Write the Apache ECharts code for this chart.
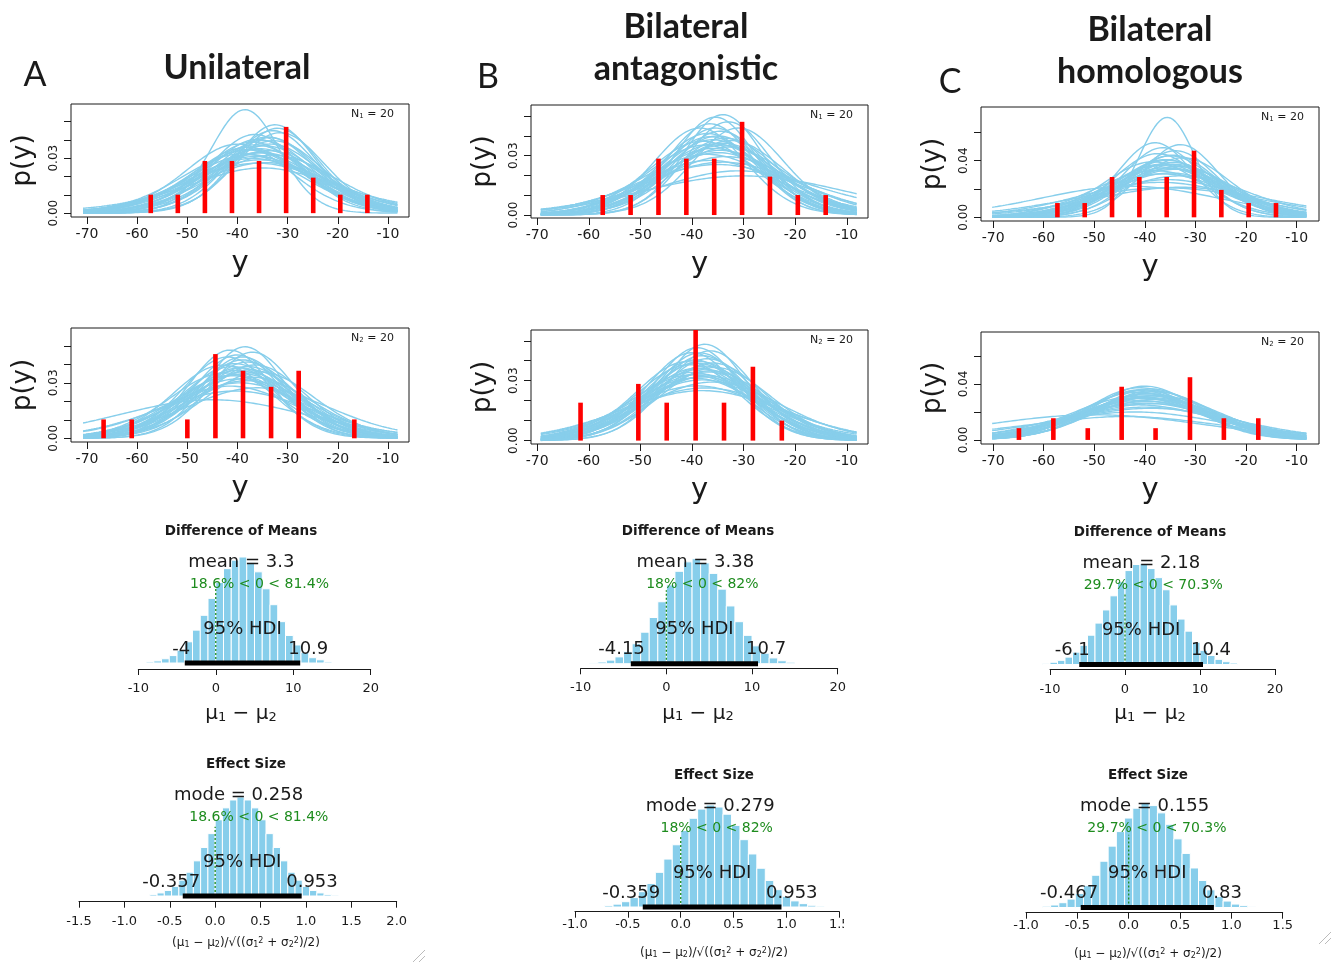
<!DOCTYPE html>
<html>
<head>
<meta charset="utf-8">
<script src="https://cdn.jsdelivr.net/npm/echarts@6/dist/echarts.min.js"></script>
<style>
  html, body { margin: 0; padding: 0; background: #fff; }
  #chart { width: 1332px; height: 969px; }
</style>
</head>
<body>
<div id="chart"></div>
<script>
// ---- posterior predictive panels (rows 1-2) ----
const predXTicks = [-70, -60, -50, -40, -30, -20, -10]
const predYTicksAB = [0, 0.01, 0.02, 0.03, 0.04, 0.05]
const predYLabelsAB = [0, 0.03]
const predYTicksC = [0, 0.02, 0.04, 0.06]
const predYLabelsC = [0, 0.04]

const curveSpanA = [-70.8, -8.1]
const curveSpanB = [-69.3, -8.1]
const curveSpanC = [-70.2, -8.1]

// observed data histograms (bar position, density)
const obsGroup1X = [-57.3, -51.9, -46.5, -41.1, -35.7, -30.3, -24.9, -19.5, -14.1]
const obsGroup1Dens = [0.0101, 0.0101, 0.0285, 0.0285, 0.0285, 0.0471, 0.0194, 0.0101, 0.0101]
const obsA2X = [-66.7, -61.1, -50.0, -44.4, -38.9, -33.3, -27.8, -16.7]
const obsA2Dens = [0.0102, 0.0102, 0.0102, 0.0455, 0.0365, 0.0278, 0.0365, 0.0102]
const obsB2X = [-61.6, -50.4, -44.9, -39.3, -33.8, -28.2, -22.6]
const obsB2Dens = [0.0190, 0.0284, 0.0190, 0.0570, 0.0190, 0.0370, 0.0100]
const obsC2X = [-64.9, -58.1, -51.3, -44.6, -37.9, -31.1, -24.4, -17.6]
const obsC2Dens = [0.0084, 0.0155, 0.0084, 0.0380, 0.0084, 0.0448, 0.0155, 0.0155]

// credible curves: [mu, sigma, nu]
const curvesA1 = [
  [-38.5, 7.0, 30], [-32.5, 8.2, 30], [-32.0, 8.5, 20], [-33.0, 8.8, 40], [-31.5, 9.0, 30],
  [-34.0, 9.5, 30], [-36.0, 9.8, 25], [-35.0, 10.0, 40], [-37.0, 10.2, 30], [-33.5, 10.4, 15],
  [-36.5, 10.6, 30], [-34.5, 10.8, 50], [-38.0, 11.0, 30], [-35.5, 11.2, 20], [-37.5, 11.4, 40],
  [-34.0, 11.6, 30], [-36.0, 11.8, 10], [-35.0, 12.0, 30], [-39.0, 12.2, 30], [-33.0, 12.5, 40],
  [-36.5, 12.8, 30], [-37.0, 13.2, 20], [-35.5, 13.6, 30], [-34.5, 14.0, 8], [-36.0, 14.5, 30],
  [-38.0, 11.5, 50], [-32.8, 10.0, 30], [-40.0, 10.5, 30], [-35.0, 15.5, 6], [-36.5, 9.2, 30],
  [-33.5, 9.6, 30], [-37.5, 12.4, 30]
]
const curvesA2 = [
  [-38.5, 8.0, 30], [-41.5, 8.3, 30], [-37.0, 8.5, 30], [-40.0, 8.8, 40], [-42.0, 9.0, 30],
  [-39.0, 9.3, 20], [-38.0, 9.6, 30], [-40.5, 9.8, 30], [-36.5, 10.0, 40], [-41.0, 10.2, 30],
  [-39.5, 10.4, 30], [-37.5, 10.6, 15], [-40.0, 10.8, 30], [-38.5, 11.0, 30], [-42.5, 11.2, 30],
  [-39.0, 11.4, 50], [-41.0, 11.7, 30], [-37.0, 12.0, 30], [-40.0, 12.3, 20], [-38.0, 12.7, 30],
  [-39.5, 13.2, 30], [-41.5, 13.8, 10], [-36.0, 14.5, 30], [-40.5, 15.5, 30], [-45.0, 19.0, 30],
  [-39.0, 9.0, 30], [-43.0, 10.0, 30], [-35.5, 11.0, 30], [-40.5, 11.5, 30], [-38.0, 10.2, 30]
]
const curvesB1 = [
  [-34.0, 7.8, 30], [-35.5, 8.0, 30], [-33.0, 8.4, 30], [-36.5, 8.6, 40], [-31.0, 9.0, 30],
  [-34.5, 9.3, 20], [-37.0, 9.6, 30], [-35.0, 9.9, 30], [-33.5, 10.2, 40], [-36.0, 10.4, 30],
  [-38.0, 10.6, 30], [-34.0, 10.8, 15], [-35.5, 11.0, 30], [-37.5, 11.2, 30], [-33.0, 11.5, 30],
  [-36.0, 11.8, 50], [-34.5, 12.1, 30], [-35.0, 12.5, 20], [-37.0, 12.9, 30], [-33.5, 13.4, 30],
  [-36.5, 14.0, 8], [-34.0, 14.8, 30], [-30.0, 20.0, 30], [-31.0, 17.0, 5], [-35.0, 15.5, 30],
  [-38.5, 9.0, 30], [-32.5, 10.5, 30], [-35.5, 9.0, 30], [-34.0, 11.2, 30], [-36.5, 10.0, 30]
]
const curvesB2 = [
  [-37.5, 8.2, 30], [-39.0, 8.5, 30], [-36.5, 8.8, 30], [-40.0, 9.0, 40], [-38.0, 9.3, 30],
  [-37.0, 9.6, 20], [-39.5, 9.8, 30], [-38.5, 10.0, 30], [-36.0, 10.2, 40], [-40.5, 10.4, 30],
  [-37.5, 10.6, 30], [-39.0, 10.8, 15], [-38.0, 11.0, 30], [-36.5, 11.3, 30], [-40.0, 11.6, 30],
  [-38.5, 11.9, 50], [-37.0, 12.2, 30], [-39.5, 12.6, 20], [-38.0, 13.0, 30], [-36.0, 13.5, 30],
  [-39.0, 14.2, 10], [-37.5, 15.0, 30], [-38.0, 15.8, 30], [-41.0, 10.0, 30], [-35.5, 10.8, 30],
  [-38.5, 9.0, 30], [-40.0, 12.0, 30], [-37.0, 11.5, 30], [-39.0, 10.2, 30], [-38.0, 12.4, 30]
]
const curvesC1 = [
  [-35.6, 5.6, 30], [-38.0, 7.5, 30], [-33.0, 7.7, 30], [-36.5, 8.0, 20], [-34.0, 8.4, 30],
  [-37.5, 8.8, 40], [-35.0, 9.1, 30], [-32.5, 9.4, 30], [-36.0, 9.7, 30], [-38.5, 10.0, 15],
  [-34.5, 10.2, 30], [-35.5, 10.5, 30], [-37.0, 10.8, 40], [-33.5, 11.0, 30], [-36.0, 11.3, 30],
  [-34.0, 11.6, 20], [-38.0, 12.0, 30], [-35.0, 12.4, 10], [-36.5, 12.9, 30], [-33.0, 13.5, 30],
  [-35.5, 14.5, 8], [-37.0, 16.0, 30], [-36.0, 19.0, 30], [-43.0, 18.0, 30], [-33.0, 18.0, 6],
  [-34.5, 9.0, 30], [-36.5, 10.5, 30], [-35.0, 11.5, 30], [-35.5, 9.8, 30], [-34.0, 10.6, 30]
]
const curvesC2 = [
  [-40.0, 10.3, 30], [-41.0, 10.6, 30], [-39.0, 10.8, 20], [-40.5, 11.0, 30], [-38.5, 11.3, 40],
  [-41.5, 11.6, 30], [-39.5, 11.9, 30], [-40.0, 12.2, 15], [-37.5, 12.5, 30], [-42.0, 12.8, 30],
  [-39.0, 13.1, 30], [-40.5, 13.4, 50], [-38.0, 13.7, 30], [-41.0, 14.0, 20], [-39.5, 14.4, 30],
  [-40.0, 14.8, 10], [-38.5, 15.3, 30], [-41.5, 15.8, 30], [-40.0, 16.5, 8], [-39.0, 17.5, 30],
  [-42.0, 19.0, 5], [-44.0, 22.0, 3], [-50.0, 22.0, 30], [-39.5, 12.0, 30], [-40.5, 13.0, 30],
  [-38.0, 11.5, 30], [-39.0, 12.6, 30], [-41.0, 11.2, 30]
]

// ---- posterior histograms (rows 3-4) ----
const diffBinWidth = 1
const diffBinStart = [-9, -9, -11]
const diffHeightsA = [0.01, 0.02, 0.04, 0.07, 0.12, 0.2, 0.31, 0.45, 0.61, 0.76, 0.89, 0.97, 1.0, 0.95, 0.86, 0.7, 0.55, 0.39, 0.26, 0.17, 0.1, 0.05, 0.03, 0.01]
const diffHeightsB = [0.007, 0.016, 0.034, 0.065, 0.115, 0.19, 0.30, 0.44, 0.59, 0.75, 0.88, 0.97, 1.0, 0.96, 0.86, 0.71, 0.55, 0.40, 0.27, 0.17, 0.10, 0.055, 0.028, 0.014]
const diffHeightsC = [0.011, 0.022, 0.041, 0.073, 0.122, 0.19, 0.29, 0.41, 0.54, 0.68, 0.82, 0.93, 0.99, 1.0, 0.95, 0.86, 0.74, 0.59, 0.45, 0.33, 0.22, 0.14, 0.089, 0.051, 0.028, 0.014]
const effBinWidth = 0.08
const effBinStart = [-0.72, -0.72, -0.84]
const effHeightsA = [0.016, 0.031, 0.056, 0.097, 0.16, 0.24, 0.355, 0.49, 0.63, 0.77, 0.89, 0.97, 1.0, 0.97, 0.89, 0.77, 0.63, 0.49, 0.355, 0.24, 0.16, 0.097, 0.056, 0.031, 0.016, 0.008]
const effHeightsB = [0.014, 0.028, 0.052, 0.092, 0.15, 0.23, 0.34, 0.47, 0.61, 0.75, 0.87, 0.96, 1.0, 0.98, 0.91, 0.80, 0.66, 0.52, 0.38, 0.26, 0.17, 0.105, 0.06, 0.033, 0.017, 0.008]
const effHeightsC = [0.012, 0.024, 0.046, 0.081, 0.135, 0.21, 0.31, 0.445, 0.59, 0.73, 0.86, 0.955, 1.0, 0.98, 0.91, 0.80, 0.66, 0.52, 0.38, 0.26, 0.17, 0.105, 0.062, 0.033, 0.017, 0.008]

const diffCentral = ['3.3', '3.38', '2.18']
const effCentral = ['0.258', '0.279', '0.155']
const pctText = ['18.6% < 0 < 81.4%', '18% < 0 < 82%', '29.7% < 0 < 70.3%']
const pctBelow = [0.186, 0.18, 0.297]
const diffHdiLo = ['-4', '-4.15', '-6.1']
const diffHdiHi = ['10.9', '10.7', '10.4']
const effHdiLo = ['-0.357', '-0.359', '-0.467']
const effHdiHi = ['0.953', '0.953', '0.83']

const FONT = "'DejaVu Sans', sans-serif"
const CURVE = '#87ceeb'
const BAR = '#87ceeb'
const GREEN = '#1e8c1e'
const INK = '#1a1a1a'

function lgamma (z) {
  const c = [0.99999999999980993, 676.5203681218851, -1259.1392167224028, 771.32342877765313,
    -176.61502916214059, 12.507343278686905, -0.13857109526572012, 9.9843695780195716e-6, 1.5056327351493116e-7]
  if (z < 0.5) return Math.log(Math.PI / Math.sin(Math.PI * z)) - lgamma(1 - z)
  z -= 1
  let x = c[0]
  for (let i = 1; i < 9; i++) x += c[i] / (z + i)
  const t = z + 7.5
  return 0.5 * Math.log(2 * Math.PI) + (z + 0.5) * Math.log(t) - t + Math.log(x)
}

function tCurve (p, span) {
  const [mu, sigma, nu] = p
  const k = Math.exp(lgamma((nu + 1) / 2) - lgamma(nu / 2)) / (Math.sqrt(nu * Math.PI) * sigma)
  const pts = []
  const n = 120
  for (let i = 0; i <= n; i++) {
    const x = span[0] + (span[1] - span[0]) * i / n
    const z = (x - mu) / sigma
    pts.push([x, k * Math.pow(1 + z * z / nu, -(nu + 1) / 2)])
  }
  return pts
}

const predPanels = [
  { left: 71, top: 104, width: 338, height: 113, xMin: -73.2, xMax: -5.8, yMin: -0.0021, yMax: 0.0596, yTicks: predYTicksAB, yLabels: predYLabelsAB, span: curveSpanA, curves: curvesA1, obsX: obsGroup1X, obsY: obsGroup1Dens, sub: '1' },
  { left: 71, top: 328, width: 338, height: 114, xMin: -73.2, xMax: -5.8, yMin: -0.0020, yMax: 0.0596, yTicks: predYTicksAB, yLabels: predYLabelsAB, span: curveSpanA, curves: curvesA2, obsX: obsA2X, obsY: obsA2Dens, sub: '2' },
  { left: 531, top: 105, width: 337, height: 113, xMin: -71.2, xMax: -5.9, yMin: -0.0015, yMax: 0.0556, yTicks: predYTicksAB, yLabels: predYLabelsAB, span: curveSpanB, curves: curvesB1, obsX: obsGroup1X, obsY: obsGroup1Dens, sub: '1' },
  { left: 531, top: 330, width: 337, height: 114, xMin: -71.2, xMax: -5.9, yMin: -0.0017, yMax: 0.0554, yTicks: predYTicksAB, yLabels: predYLabelsAB, span: curveSpanB, curves: curvesB2, obsX: obsB2X, obsY: obsB2Dens, sub: '2' },
  { left: 981, top: 107, width: 338, height: 114, xMin: -72.4, xMax: -5.6, yMin: -0.0026, yMax: 0.0780, yTicks: predYTicksC, yLabels: predYLabelsC, span: curveSpanC, curves: curvesC1, obsX: obsGroup1X, obsY: obsGroup1Dens, sub: '1' },
  { left: 981, top: 332, width: 338, height: 112, xMin: -72.4, xMax: -5.6, yMin: -0.0029, yMax: 0.0771, yTicks: predYTicksC, yLabels: predYLabelsC, span: curveSpanC, curves: curvesC2, obsX: obsC2X, obsY: obsC2Dens, sub: '2' }
]

const histPanels = [
  { left: 138.3, width: 232.4, axisY: 669, y0: 663, ppu: 106, xMin: -10, xMax: 20, interval: 10, dec: 0, margin: 13, cx: 241, kind: 'diff', col: 0 },
  { left: 580.7, width: 257, axisY: 668.3, y0: 663.7, ppu: 105, xMin: -10, xMax: 20, interval: 10, dec: 0, margin: 13, cx: 698, kind: 'diff', col: 1 },
  { left: 1050, width: 225, axisY: 669, y0: 664.5, ppu: 101, xMin: -10, xMax: 20, interval: 10, dec: 0, margin: 14, cx: 1150, kind: 'diff', col: 2 },
  { left: 79, width: 317.7, axisY: 901.7, y0: 896, ppu: 99, xMin: -1.5, xMax: 2.0, interval: 0.5, dec: 1, margin: 13, cx: 246, kind: 'eff', col: 0 },
  { left: 575, width: 264.3, axisY: 911.7, y0: 907, ppu: 102, xMin: -1.0, xMax: 1.5, interval: 0.5, dec: 1, margin: 6, cx: 714, kind: 'eff', col: 1 },
  { left: 1026, width: 256.7, axisY: 912.7, y0: 907.5, ppu: 104, xMin: -1.0, xMax: 1.5, interval: 0.5, dec: 1, margin: 6, cx: 1148, kind: 'eff', col: 2 }
]
const diffHeights = [diffHeightsA, diffHeightsB, diffHeightsC]
const effHeights = [effHeightsA, effHeightsB, effHeightsC]

const chart = echarts.init(document.getElementById('chart'))
const grids = []
const xAxes = []
const yAxes = []
const series = []

predPanels.forEach((p, i) => {
  grids.push({ left: p.left, top: p.top, width: p.width, height: p.height, show: true, borderColor: INK, borderWidth: 1 })
  xAxes.push({
    type: 'value', gridIndex: i, min: p.xMin, max: p.xMax,
    axisLine: { show: false, onZero: false },
    axisTick: { show: true, length: 7, customValues: predXTicks, lineStyle: { color: INK } },
    axisLabel: { customValues: predXTicks, color: INK, fontSize: 14, fontFamily: FONT, margin: 10 },
    splitLine: { show: false }
  })
  yAxes.push({
    type: 'value', gridIndex: i, min: p.yMin, max: p.yMax,
    axisLine: { show: false, onZero: false },
    axisTick: { show: true, length: 7, customValues: p.yTicks, lineStyle: { color: INK } },
    axisLabel: { customValues: p.yLabels, rotate: 90, color: INK, fontSize: 12, fontFamily: FONT, margin: 11, formatter: v => v.toFixed(2) },
    splitLine: { show: false }
  })
  p.curves.forEach(c => {
    series.push({
      type: 'line', xAxisIndex: i, yAxisIndex: i, data: tCurve(c, p.span),
      symbol: 'none', silent: true, animation: false, z: 2,
      lineStyle: { color: CURVE, width: 1.4 }
    })
  })
  series.push({
    type: 'custom', xAxisIndex: i, yAxisIndex: i, clip: true, silent: true, z: 3,
    data: p.obsX.map((x, k) => [x, p.obsY[k]]),
    encode: { x: 0, y: 1 },
    renderItem: (params, api) => {
      const top = api.coord([api.value(0), api.value(1)])
      const base = api.coord([api.value(0), 0])
      return { type: 'rect', shape: { x: top[0] - 2.3, y: top[1], width: 4.6, height: base[1] - top[1] }, style: { fill: '#ff0000' } }
    }
  })
})

histPanels.forEach((h, j) => {
  const gi = predPanels.length + j
  const top = h.y0 - 1.25 * h.ppu
  grids.push({ left: h.left, top: top, width: h.width, height: h.axisY - top, show: false })
  xAxes.push({
    type: 'value', gridIndex: gi, min: h.xMin, max: h.xMax, interval: h.interval,
    axisLine: { show: true, onZero: false, lineStyle: { color: INK, width: 1 } },
    axisTick: { show: true, length: 6, lineStyle: { color: INK } },
    axisLabel: { color: INK, fontSize: 13, fontFamily: FONT, margin: h.margin, formatter: v => v.toFixed(h.dec) },
    splitLine: { show: false }
  })
  yAxes.push({ type: 'value', gridIndex: gi, min: -(h.axisY - h.y0) / h.ppu, max: 1.25, show: false })

  const heights = h.kind === 'diff' ? diffHeights[h.col] : effHeights[h.col]
  const start = h.kind === 'diff' ? diffBinStart[h.col] : effBinStart[h.col]
  const w = h.kind === 'diff' ? diffBinWidth : effBinWidth
  const lo = parseFloat(h.kind === 'diff' ? diffHdiLo[h.col] : effHdiLo[h.col])
  const hi = parseFloat(h.kind === 'diff' ? diffHdiHi[h.col] : effHdiHi[h.col])

  series.push({
    type: 'custom', xAxisIndex: gi, yAxisIndex: gi, silent: true, z: 2,
    data: heights.map((v, k) => [start + k * w, start + (k + 1) * w, v]),
    encode: { x: [0, 1], y: 2 },
    renderItem: (params, api) => {
      const a = api.coord([api.value(0), api.value(2)])
      const b = api.coord([api.value(1), 0])
      return { type: 'rect', shape: { x: a[0], y: a[1], width: b[0] - a[0], height: b[1] - a[1] }, style: { fill: BAR, stroke: '#fff', lineWidth: 1 } }
    }
  })
  series.push({
    type: 'line', xAxisIndex: gi, yAxisIndex: gi, data: [[0, 0], [0, 0.7]], symbol: 'none', silent: true, z: 3,
    lineStyle: { color: GREEN, width: 1.3, type: [2, 2] }
  })
  series.push({
    type: 'line', xAxisIndex: gi, yAxisIndex: gi, data: [[lo, 0], [hi, 0]], symbol: 'none', silent: true, z: 4, clip: false,
    lineStyle: { color: '#000', width: 5 }
  })
})

chart.setOption({ animation: false, grid: grids, xAxis: xAxes, yAxis: yAxes, series: series })

// ---- text annotations ----
const measureCtx = document.createElement('canvas').getContext('2d')
function textWidth (text, size, weight) {
  measureCtx.font = (weight || 'normal') + ' ' + size + 'px "DejaVu Sans"'
  return measureCtx.measureText(text).width
}
function txt (x, y, text, size, opts) {
  opts = opts || {}
  return {
    type: 'text', x: x, y: y, rotation: opts.rotation || 0, z: 100, silent: true,
    style: {
      text: text, fontSize: size, fontFamily: opts.family || FONT, fontWeight: opts.weight || 'normal',
      fill: opts.color || INK, align: opts.align || 'center', verticalAlign: 'middle', rich: opts.rich
    }
  }
}

const graphic = []
// column headings
const LATO = 'Lato, sans-serif'
graphic.push(txt(35, 75, 'A', 34, { family: LATO }))
graphic.push(txt(237, 68, 'Unilateral', 34, { family: LATO, weight: 'bold' }))
graphic.push(txt(488, 77, 'B', 34, { family: LATO }))
graphic.push(txt(686, 27, 'Bilateral', 34, { family: LATO, weight: 'bold' }))
graphic.push(txt(686, 69, 'antagonistic', 34, { family: LATO, weight: 'bold' }))
graphic.push(txt(950, 82, 'C', 34, { family: LATO }))
graphic.push(txt(1150, 30, 'Bilateral', 34, { family: LATO, weight: 'bold' }))
graphic.push(txt(1150, 72, 'homologous', 34, { family: LATO, weight: 'bold' }))

predPanels.forEach(p => {
  graphic.push(txt(p.left - 48, p.top + p.height / 2, 'p(y)', 26, { rotation: Math.PI / 2 }))
  graphic.push(txt(p.left + p.width / 2, p.top + p.height + 46, 'y', 29))
  graphic.push(txt(p.left + p.width - 15, p.top + 10, 'N{s|' + p.sub + '} = 20', 11, {
    align: 'right',
    rich: { s: { fontSize: 7, fontFamily: FONT, verticalAlign: 'bottom', lineHeight: 8 } }
  }))
})

histPanels.forEach((h, j) => {
  const gi = predPanels.length + j
  const px = v => chart.convertToPixel({ gridIndex: gi }, [v, 0])[0]
  const y0 = chart.convertToPixel({ gridIndex: gi }, [0, 0])[1]
  const axisY = chart.convertToPixel({ gridIndex: gi }, [0, -(h.axisY - h.y0) / h.ppu])[1]
  const isDiff = h.kind === 'diff'
  const central = isDiff ? diffCentral[h.col] : effCentral[h.col]
  const loTxt = isDiff ? diffHdiLo[h.col] : effHdiLo[h.col]
  const hiTxt = isDiff ? diffHdiHi[h.col] : effHdiHi[h.col]
  const lo = parseFloat(loTxt)
  const hi = parseFloat(hiTxt)
  const pct = pctText[h.col]

  graphic.push(txt(h.cx, y0 - 132, isDiff ? 'Difference of Means' : 'Effect Size', 13.5, { weight: 'bold' }))
  graphic.push(txt(px(parseFloat(central)), y0 - 101, (isDiff ? 'mean' : 'mode') + ' = ' + central, 18))
  graphic.push(txt(px(0) - pctBelow[h.col] * textWidth(pct, 14), y0 - 79, pct, 14, { color: GREEN, align: 'left' }))
  graphic.push(txt(px((lo + hi) / 2), y0 - 34, '95% HDI', 18))
  graphic.push(txt(px(lo) - 0.7 * textWidth(loTxt, 18), y0 - 14, loTxt, 18, { align: 'left' }))
  graphic.push(txt(px(hi) - 0.3 * textWidth(hiTxt, 18), y0 - 14, hiTxt, 18, { align: 'left' }))
  if (isDiff) {
    graphic.push(txt(h.cx, axisY + 45, 'μ{s|1} − μ{s|2}', 20, {
      rich: { s: { fontSize: 13, fontFamily: FONT, verticalAlign: 'bottom', lineHeight: 14 } }
    }))
  } else {
    graphic.push(txt(h.cx, axisY + 41, '(μ{s|1} − μ{s|2})/√((σ{s|1}{p|2} + σ{s|2}{p|2})/2)', 12, {
      rich: {
        s: { fontSize: 8, fontFamily: FONT, verticalAlign: 'bottom', lineHeight: 8 },
        p: { fontSize: 8, fontFamily: FONT, verticalAlign: 'top', lineHeight: 8 }
      }
    }))
  }
})

// clipped tick label at right edge of panel B and resize grips
graphic.push({ type: 'rect', shape: { x: 844, y: 915, width: 20, height: 22 }, style: { fill: '#fff' }, z: 101, silent: true })
graphic.push({ type: 'line', shape: { x1: 413, y1: 962, x2: 425, y2: 950 }, style: { stroke: '#bbb', lineWidth: 1 }, silent: true })
graphic.push({ type: 'line', shape: { x1: 419, y1: 962, x2: 425, y2: 956 }, style: { stroke: '#bbb', lineWidth: 1 }, silent: true })
graphic.push({ type: 'line', shape: { x1: 1319, y1: 944, x2: 1331, y2: 932 }, style: { stroke: '#bbb', lineWidth: 1 }, silent: true })
graphic.push({ type: 'line', shape: { x1: 1325, y1: 944, x2: 1331, y2: 938 }, style: { stroke: '#bbb', lineWidth: 1 }, silent: true })

chart.setOption({ graphic: graphic })
</script>
</body>
</html>
